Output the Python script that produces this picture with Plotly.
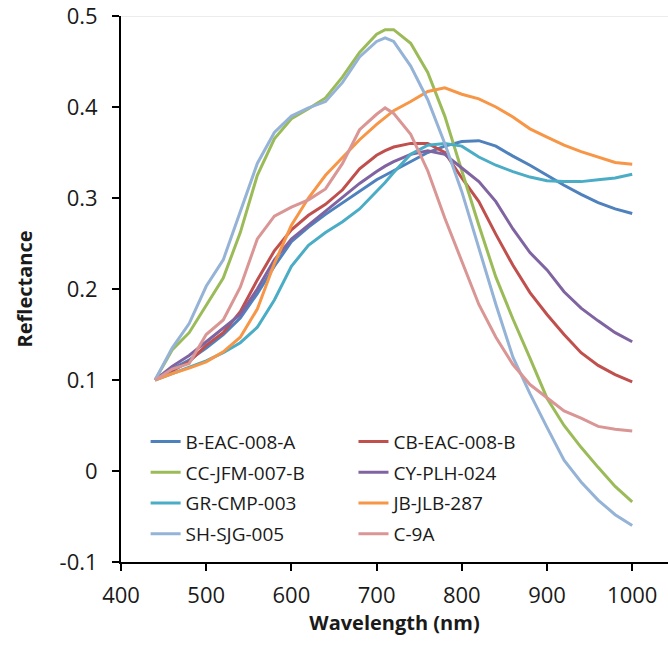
import plotly.graph_objects as go

wavelength = [440, 460, 480, 500, 520, 540, 560, 580, 600, 620, 640, 660, 680, 700, 710,
              720, 740, 760, 780, 800, 820, 840, 860, 880, 900, 920, 940, 960, 980, 1000]

b_eac_008_a = [0.100, 0.112, 0.122, 0.135, 0.150, 0.168, 0.195, 0.225, 0.252, 0.268, 0.282, 0.295, 0.308, 0.320, 0.325,
               0.330, 0.340, 0.350, 0.357, 0.362, 0.363, 0.357, 0.346, 0.336, 0.325, 0.314, 0.304, 0.295, 0.288, 0.283]
cb_eac_008_b = [0.100, 0.110, 0.120, 0.138, 0.152, 0.175, 0.210, 0.242, 0.265, 0.281, 0.293, 0.309, 0.332, 0.347, 0.352,
                0.356, 0.360, 0.360, 0.350, 0.322, 0.296, 0.260, 0.226, 0.196, 0.172, 0.150, 0.130, 0.116, 0.106, 0.098]
cc_jfm_007_b = [0.100, 0.133, 0.152, 0.182, 0.212, 0.262, 0.325, 0.365, 0.387, 0.398, 0.410, 0.433, 0.460, 0.480, 0.485,
                0.485, 0.470, 0.438, 0.390, 0.330, 0.270, 0.213, 0.167, 0.124, 0.080, 0.050, 0.026, 0.004, -0.017, -0.034]
cy_plh_024 = [0.100, 0.115, 0.127, 0.142, 0.157, 0.172, 0.200, 0.232, 0.255, 0.270, 0.285, 0.300, 0.316, 0.329, 0.335,
              0.340, 0.348, 0.352, 0.348, 0.333, 0.318, 0.296, 0.266, 0.240, 0.221, 0.197, 0.179, 0.165, 0.152, 0.142]
gr_cmp_003 = [0.100, 0.107, 0.114, 0.121, 0.130, 0.141, 0.158, 0.188, 0.225, 0.248, 0.262, 0.274, 0.288, 0.307, 0.317,
              0.328, 0.348, 0.358, 0.360, 0.357, 0.345, 0.336, 0.329, 0.323, 0.319, 0.318, 0.318, 0.320, 0.322, 0.326]
jb_jlb_287 = [0.100, 0.107, 0.113, 0.120, 0.131, 0.147, 0.178, 0.228, 0.270, 0.300, 0.325, 0.345, 0.364, 0.381, 0.389,
              0.396, 0.406, 0.417, 0.421, 0.414, 0.409, 0.400, 0.389, 0.376, 0.367, 0.358, 0.351, 0.345, 0.339, 0.337]
sh_sjg_005 = [0.100, 0.135, 0.162, 0.203, 0.232, 0.285, 0.338, 0.372, 0.390, 0.399, 0.406, 0.427, 0.455, 0.472, 0.476,
              0.472, 0.445, 0.408, 0.360, 0.307, 0.246, 0.183, 0.125, 0.085, 0.048, 0.012, -0.012, -0.032, -0.048, -0.060]
c_9a = [0.100, 0.112, 0.118, 0.150, 0.166, 0.202, 0.255, 0.280, 0.290, 0.298, 0.310, 0.338, 0.375, 0.392, 0.399,
        0.393, 0.370, 0.330, 0.278, 0.230, 0.183, 0.147, 0.117, 0.095, 0.080, 0.066, 0.058, 0.049, 0.046, 0.044]

series_names = ["B-EAC-008-A", "CB-EAC-008-B", "CC-JFM-007-B", "CY-PLH-024",
                "GR-CMP-003", "JB-JLB-287", "SH-SJG-005", "C-9A"]
series_values = [b_eac_008_a, cb_eac_008_b, cc_jfm_007_b, cy_plh_024,
                 gr_cmp_003, jb_jlb_287, sh_sjg_005, c_9a]
series_colors = ["#4F81BD", "#C0504D", "#9BBB59", "#8064A2",
                 "#4BACC6", "#F79646", "#95B3D7", "#D99694"]

y_tickvals = [-0.1, 0, 0.1, 0.2, 0.3, 0.4, 0.5]
y_ticktext = ["-0.1", "0", "0.1", "0.2", "0.3", "0.4", "0.5"]
x_tickvals = [400, 500, 600, 700, 800, 900, 1000]

FONT = "Open Sans"
TXT = "#1a1a1a"

fig = go.Figure()
for i, (name, vals, col) in enumerate(zip(series_names, series_values, series_colors)):
    fig.add_trace(go.Scatter(
        x=wavelength, y=vals, name=name, mode="lines",
        line=dict(color=col, width=3),
        legend="legend" if i % 2 == 0 else "legend2",
        legendgroup=name,
    ))

legend_common = dict(
    font=dict(family=FONT, size=19, color=TXT),
    bgcolor="rgba(0,0,0,0)", borderwidth=0,
    tracegroupgap=3, itemwidth=30,
    xanchor="left", yanchor="top", orientation="v",
)

fig.update_layout(
    width=668, height=649,
    margin=dict(l=121, r=0, t=16, b=87),
    paper_bgcolor="white", plot_bgcolor="white",
    showlegend=True,
    legend=dict(x=0.045, y=0.255, **legend_common),
    legend2=dict(x=0.425, y=0.255, **legend_common),
    xaxis=dict(
        range=[400, 1042], tickvals=x_tickvals,
        showline=True, linecolor="#000000", linewidth=2,
        ticks="outside", ticklen=7, tickwidth=2, tickcolor="#000000",
        showgrid=False, zeroline=False,
        tickfont=dict(family=FONT, size=22, color=TXT),
        ticklabelstandoff=6, ticklabeloverflow="allow",
        title=dict(text="<b>Wavelength (nm)</b>", font=dict(family=FONT, size=20, color=TXT), standoff=2),
    ),
    yaxis=dict(
        range=[-0.1, 0.5], tickvals=y_tickvals, ticktext=y_ticktext,
        showline=True, linecolor="#000000", linewidth=2,
        ticks="outside", ticklen=7, tickwidth=2, tickcolor="#000000",
        showgrid=False, zeroline=False,
        tickfont=dict(family=FONT, size=22, color=TXT),
        ticklabelstandoff=10, ticklabeloverflow="allow",
        title=dict(text="<b>Reflectance</b>", font=dict(family=FONT, size=20, color=TXT), standoff=22),
    ),
)

fig.add_shape(type="line", xref="paper", yref="y", x0=0, x1=1, y0=0.5, y1=0.5,
              line=dict(color="#D9D9D9", width=1), layer="below")

fig.write_html("out.html")
